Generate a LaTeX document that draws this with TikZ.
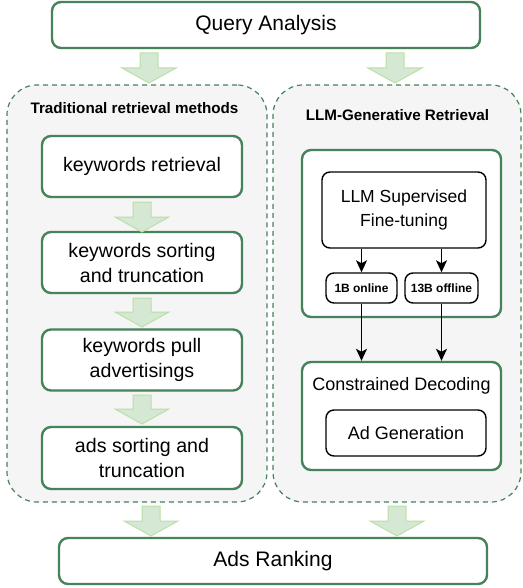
\documentclass[tikz,border=0pt]{standalone}
\usepackage{fontspec}
\setmainfont{Liberation Sans}
\usetikzlibrary{arrows.meta}
\definecolor{boxgreen}{RGB}{70,130,90}
\definecolor{arrowfill}{HTML}{D5E8D4}
\definecolor{arrowline}{HTML}{B9E0A5}
\definecolor{panelgray}{HTML}{F5F5F5}

% block arrow: x, top, tip
\newcommand{\fatarrow}[3]{%
  \draw[fatarr] (#1-9,#2) -- (#1+9,#2) -- (#1+9,#3-15) -- (#1+27,#3-15)
    -- (#1,#3) -- (#1-27,#3-15) -- (#1-9,#3-15) -- cycle;}

\begin{document}
\begin{tikzpicture}[
        x=1pt, y=-1pt,
        panel/.style={draw=boxgreen, dashed, dash pattern=on 5pt off 4pt, line width=1.2pt, fill=panelgray, rounded corners=30pt},
        greenbox/.style={draw=boxgreen, line width=2.4pt, rounded corners=9pt, fill=white, align=center, inner sep=0pt, font=\fontsize{19.6}{25}\selectfont},
        blackbox/.style={draw=black, line width=1.4pt, rounded corners=8pt, fill=white, align=center, inner sep=0pt},
        title/.style={font=\bfseries\fontsize{15.2}{18}\selectfont},
        fatarr/.style={fill=arrowfill, draw=arrowline, line width=1pt},
        arr/.style={-{Stealth[length=12pt, width=11pt, inset=3pt]}, line width=1.4pt}
    ]
    \useasboundingbox (0,0) rectangle (522,588);
    % top and bottom
    \node[greenbox, minimum width=428pt, minimum height=46pt, font=\fontsize{21}{25}\selectfont] (qa) at (266,25) {Query Analysis};
    \node[greenbox, minimum width=428pt, minimum height=46pt, font=\fontsize{21}{25}\selectfont] (rank) at (273,561) {Ads Ranking};

    % panels
    \node[panel, minimum width=260pt, minimum height=417pt] (trad) at (137,293.5) {};
    \node[panel, minimum width=248pt, minimum height=417pt] (llm) at (397,293.5) {};
    \node[title] (tradt) at (134.5,108) {Traditional retrieval methods};
    \node[title] (llmt) at (397.5,115) {LLM-Generative Retrieval};

    % traditional chain
    \node[greenbox, minimum width=200pt, minimum height=61pt] (kr) at (142,166.5) {keywords retrieval};
    \node[greenbox, minimum width=200pt, minimum height=61pt] (ks) at (142,262.5) {keywords sorting\\and truncation};
    \node[greenbox, minimum width=200pt, minimum height=61pt] (kp) at (142,360) {keywords pull\\advertisings};
    \node[greenbox, minimum width=200pt, minimum height=62pt] (as) at (142,458) {ads sorting and\\truncation};

    % generative side
    \node[greenbox, minimum width=199pt, minimum height=167pt] (sftg) at (401.5,233.5) {};
    \node[blackbox, minimum width=164pt, minimum height=76pt, font=\fontsize{17.5}{24}\selectfont] (sft) at (404,210) {LLM Supervised\\Fine-tuning};
    \node[blackbox, minimum width=71pt, minimum height=30pt, font=\bfseries\fontsize{12}{14}\selectfont] (b1) at (361.5,288) {1B online};
    \node[blackbox, minimum width=73pt, minimum height=30pt, font=\bfseries\fontsize{12}{14}\selectfont] (b13) at (441.5,288) {13B offline};
    \node[greenbox, minimum width=199pt, minimum height=108pt] (cd) at (401.5,416) {};
    \node[font=\fontsize{18}{22}\selectfont] (cdt) at (401.5,386) {Constrained Decoding};
    \node[blackbox, minimum width=160pt, minimum height=46pt, font=\fontsize{18}{22}\selectfont] (ag) at (406,433) {Ad Generation};

    \draw[arr] (sft.south -| b1) -- (b1.north);
    \draw[arr] (sft.south -| b13) -- (b13.north);
    \draw[arr] (b1.south) -- (b1.south |- cd.north);
    \draw[arr] (b13.south) -- (b13.south |- cd.north);

    % block arrows
    \fatarrow{149}{53}{83}
    \fatarrow{395}{53}{83}
    \fatarrow{142}{202}{232}
    \fatarrow{142}{298}{327}
    \fatarrow{142}{395}{424}
    \fatarrow{151}{506}{536}
    \fatarrow{397}{506}{536}
\end{tikzpicture}
\end{document}
